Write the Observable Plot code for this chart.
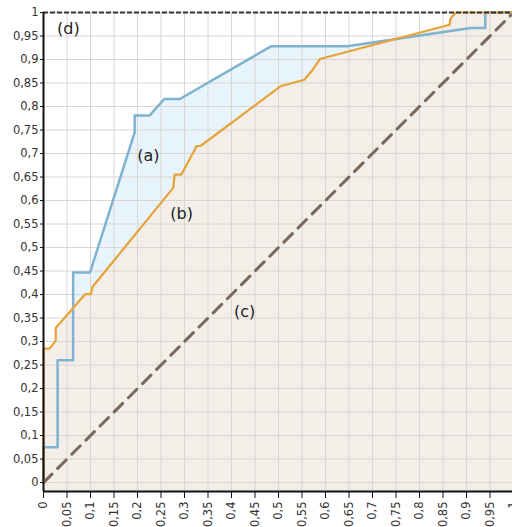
<!DOCTYPE html>
<html>
<head>
<meta charset="utf-8">
<script src="https://cdn.jsdelivr.net/npm/d3@7"></script>
<script src="https://cdn.jsdelivr.net/npm/@observablehq/plot@0.6"></script>
<style>
  html, body { margin: 0; padding: 0; background: #fff; overflow: hidden; }
  #chart svg { display: block; max-width: none !important; }
</style>
</head>
<body>
<div id="chart"></div>
<script>
// Curve (a) – blue
const fprA = [0, 0, 0.030, 0.030, 0.063, 0.063, 0.099, 0.194, 0.194, 0.226, 0.257, 0.290, 0.484, 0.646, 0.909, 0.940, 0.940, 1];
const tprA = [0, 0.075, 0.075, 0.26, 0.26, 0.447, 0.447, 0.745, 0.781, 0.781, 0.816, 0.816, 0.928, 0.928, 0.967, 0.967, 1, 1];
// Curve (b) – orange
const fprB = [0, 0, 0.013, 0.026, 0.026, 0.089, 0.101, 0.104, 0.276, 0.279, 0.293, 0.323, 0.325, 0.334, 0.504, 0.555, 0.572, 0.588, 0.864, 0.866, 0.877, 1];
const tprB = [0, 0.285, 0.285, 0.302, 0.329, 0.401, 0.401, 0.416, 0.627, 0.655, 0.655, 0.71, 0.716, 0.716, 0.843, 0.857, 0.877, 0.901, 0.974, 0.987, 1, 1];
// Reference diagonal (c)
const diagX = [0, 1];
const diagY = [0, 1];
// Tick values
const ticks = [0,0.05,0.1,0.15,0.2,0.25,0.3,0.35,0.4,0.45,0.5,0.55,0.6,0.65,0.7,0.75,0.8,0.85,0.9,0.95,1];
// Annotations
const labelText = ["(a)", "(b)", "(c)", "(d)"];
const labelX = [0.223, 0.294, 0.428, 0.053];
const labelY = [0.696, 0.572, 0.364, 0.966];

const yMin = -0.019;
const A = fprA.map((x, i) => ({x, y: tprA[i]}));
const B = fprB.map((x, i) => ({x, y: tprB[i]}));
const D = diagX.map((x, i) => ({x, y: diagY[i]}));
const L = labelText.map((t, i) => ({t, x: labelX[i], y: labelY[i]}));
const fmt = v => String(+v.toFixed(2)).replace(".", ",");

const plot = Plot.plot({
  width: 520,
  height: 527,
  marginLeft: 43,
  marginRight: 7,
  marginTop: 12,
  marginBottom: 36,
  style: {fontFamily: "DejaVu Sans, Verdana, sans-serif", fontSize: "11.5px", color: "#333", background: "#fff", maxWidth: "none"},
  x: {domain: [0, 1], label: null},
  y: {domain: [yMin, 1], label: null},
  marks: [
    Plot.areaY(A, {x: "x", y1: yMin, y2: "y", fill: "#e8f4fb"}),
    Plot.areaY(B, {x: "x", y1: yMin, y2: "y", fill: "#f3efe8"}),
    Plot.ruleX(ticks, {y1: yMin, y2: 1, stroke: "#d9d6d1", strokeWidth: 1}),
    Plot.ruleY(ticks, {x1: 0, x2: 1, stroke: "#d9d6d1", strokeWidth: 1}),
    Plot.line(D, {x: "x", y: "y", stroke: "#7a695b", strokeWidth: 3, strokeDasharray: "12,8"}),
    Plot.line(A, {x: "x", y: "y", stroke: "#7fb2cf", strokeWidth: 2.5}),
    Plot.line(B, {x: "x", y: "y", stroke: "#e8a23a", strokeWidth: 2.2}),
    Plot.ruleY([1], {stroke: "#333", strokeWidth: 2, strokeDasharray: "5,2"}),
    Plot.ruleY([yMin], {stroke: "#111", strokeWidth: 2}),
    Plot.ruleX([0], {y1: yMin, y2: 1, stroke: "#111", strokeWidth: 2}),
    Plot.axisY(ticks, {tickSize: 3, tickPadding: 2, tickFormat: fmt, stroke: "#111", fill: "#333"}),
    Plot.axisX(ticks, {tickSize: 7, tickPadding: 3, tickFormat: fmt, tickRotate: -90, stroke: "#111", fill: "#333"}),
    Plot.text(L, {x: "x", y: "y", text: "t", fontSize: 16, fill: "#222"})
  ]
});
document.getElementById("chart").appendChild(plot);
</script>
</body>
</html>
